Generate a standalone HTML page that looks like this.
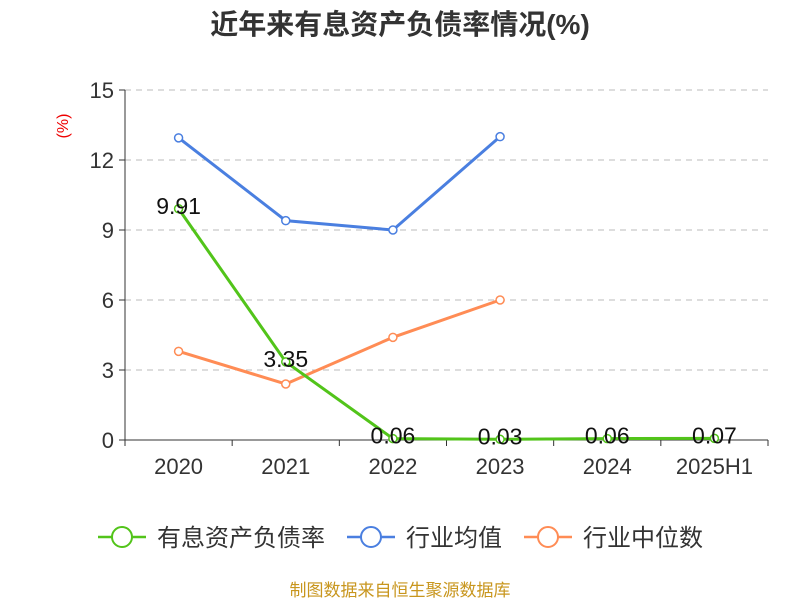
<!DOCTYPE html>
<html><head><meta charset="utf-8"><style>
body{margin:0;background:#fff;font-family:"Liberation Sans","Noto Sans CJK SC",sans-serif}
svg text{font-family:"Liberation Sans","Noto Sans CJK SC",sans-serif}
</style></head><body>
<svg id="chart" width="800" height="600">
<text x="400" y="34" text-anchor="middle" font-size="28" font-weight="bold" fill="#333">近年来有息资产负债率情况(%)</text>
<text x="68" y="126" transform="rotate(-90 68 126)" text-anchor="middle" font-size="16" fill="#e00">(%)</text>
<g id="grid"></g><g id="axes"></g><g id="series"></g>
<g>
<g><line x1="98" y1="537" x2="146" y2="537" stroke="#52c41a" stroke-width="2.5"/><circle cx="122" cy="537" r="10" fill="#fff" stroke="#52c41a" stroke-width="2"/><text x="157" y="546" font-size="24" fill="#333">有息资产负债率</text></g>
<g><line x1="347" y1="537" x2="395" y2="537" stroke="#4a7fe0" stroke-width="2.5"/><circle cx="371" cy="537" r="10" fill="#fff" stroke="#4a7fe0" stroke-width="2"/><text x="406" y="546" font-size="24" fill="#333">行业均值</text></g>
<g><line x1="524" y1="537" x2="572" y2="537" stroke="#ff8c55" stroke-width="2.5"/><circle cx="548" cy="537" r="10" fill="#fff" stroke="#ff8c55" stroke-width="2"/><text x="583" y="546" font-size="24" fill="#333">行业中位数</text></g>
</g>
<text x="400" y="596" text-anchor="middle" font-size="17" fill="#c8961e">制图数据来自恒生聚源数据库</text>
</svg>
<script>
const categories=["2020","2021","2022","2023","2024","2025H1"];
const debtRatio=[9.91,3.35,0.06,0.03,0.06,0.07];
const industryAvg=[12.95,9.4,9.0,13.0];
const industryMedian=[3.8,2.4,4.4,6.0];
const yTicks=[0,3,6,9,12,15];
const NS="http://www.w3.org/2000/svg";
const L=125,R=768,T=90,B=440,yMax=15;
const bw=(R-L)/categories.length;
const xs=i=>L+bw*(i+0.5);
const ys=v=>B-(v/yMax)*(B-T);
function mk(tag,attrs,parent){const e=document.createElementNS(NS,tag);for(const k in attrs)e.setAttribute(k,attrs[k]);parent.appendChild(e);return e;}
const grid=document.getElementById('grid'),axes=document.getElementById('axes'),ser=document.getElementById('series');
yTicks.forEach(t=>{
 if(t>0){const g=mk('line',{x1:L,x2:R,y1:ys(t),y2:ys(t),stroke:'#bbb','stroke-dasharray':'6,5'},grid);
 
 }
 const tk=mk('line',{x1:L-6,x2:L,y1:ys(t),y2:ys(t),stroke:'#333'},axes);
 
 
 const tx=mk('text',{x:L-11,y:ys(t)+8,'text-anchor':'end','font-size':22,fill:'#333'},axes);tx.textContent=t;
 
 
});
const ya=mk('line',{x1:L,x2:L,y1:T,y2:B,stroke:'#333'},axes);


const xa=mk('line',{x1:L,x2:R,y1:B,y2:B,stroke:'#333'},axes);


for(let i=0;i<=categories.length;i++){const t=mk('line',{x1:L+bw*i,x2:L+bw*i,y1:B,y2:B+6,stroke:'#333'},axes);
 
 }
categories.forEach((c,i)=>{const t=mk('text',{x:xs(i),y:B+34,'text-anchor':'middle','font-size':22,fill:'#333'},axes);t.textContent=c;
 
 });
function line(data,color,name,labels){
 const g=mk('g',{},ser);
 
 
 const p=mk('polyline',{points:data.map((v,i)=>xs(i)+','+ys(v)).join(' '),fill:'none',stroke:color,'stroke-width':3},g);
 
 
 data.forEach((v,i)=>{const c=mk('circle',{cx:xs(i),cy:ys(v),r:4,fill:'#fff',stroke:color,'stroke-width':1.5},g);
  
  
  if(labels){const t=mk('text',{x:xs(i),y:ys(v)+5,'text-anchor':'middle','font-size':23,fill:'#111'},g);t.textContent=v.toFixed(2);
  
  }
 });
}
line(industryAvg,'#4a7fe0','industry-avg-series',false);
line(industryMedian,'#ff8c55','industry-median-series',false);
line(debtRatio,'#52c41a','debt-ratio-series',true);
</script>
</body></html>
